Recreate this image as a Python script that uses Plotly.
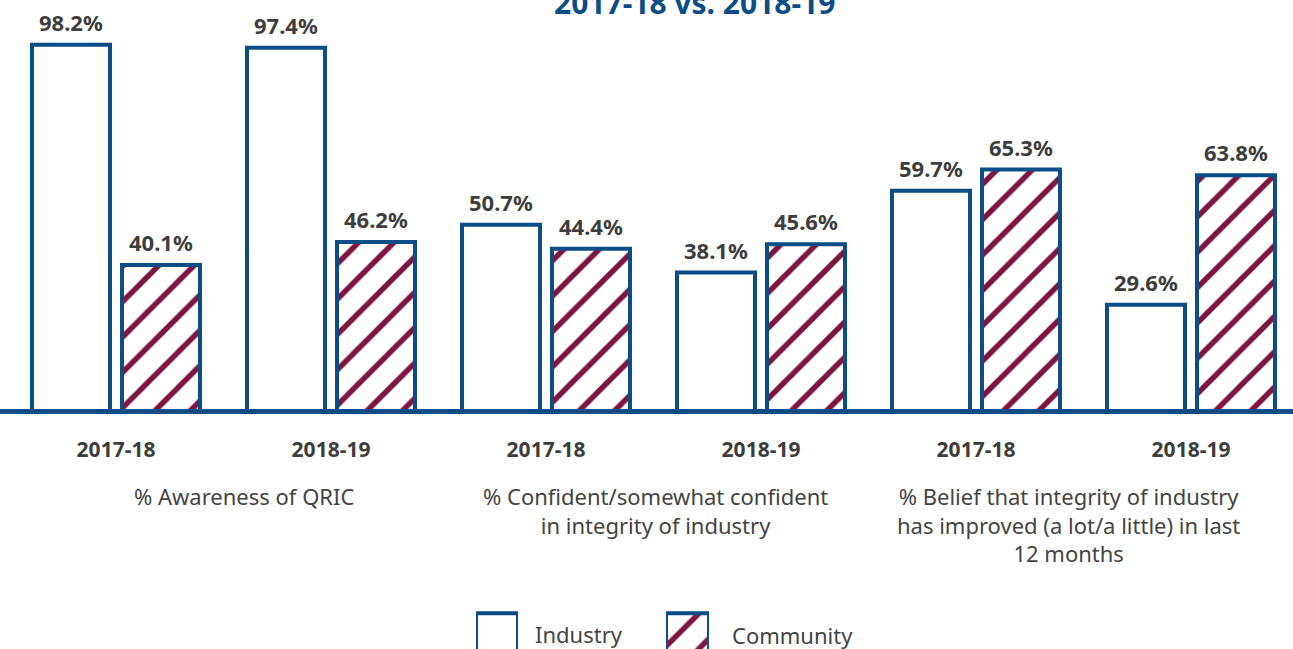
import plotly.graph_objects as go

# ---- data ----
periods = ["2017-18", "2018-19", "2017-18", "2018-19", "2017-18", "2018-19"]
industry = [98.2, 97.4, 50.7, 38.1, 59.7, 29.6]
community = [40.1, 46.2, 44.4, 45.6, 65.3, 63.8]
measures = ["% Awareness of QRIC",
            "% Confident/somewhat confident<br>in integrity of industry",
            "% Belief that integrity of industry<br>has improved (a lot/a little) in last<br>12 months"]
title_text = "2017-18 vs. 2018-19"
series_names = ["Industry", "Community"]

BLUE = "#0d4d85"
MAROON = "#7c1541"
GREY = "#3d3d3d"
FONT = "Noto Sans"

xpos = list(range(len(periods)))
hatch = dict(shape="/", fgcolor=MAROON, fgopacity=1, bgcolor="white", size=25, solidity=0.22)

PX_PER_UNIT = 3.79
ZERO_PX = 417.0
BASE_PX = 411.5

fig = go.Figure()
fig.add_trace(go.Bar(
    x=xpos, y=industry, name=series_names[0],
    marker=dict(color="white", line=dict(color=BLUE, width=4)),
    offsetgroup="a", showlegend=False, cliponaxis=True))
fig.add_trace(go.Bar(
    x=xpos, y=community, name=series_names[1],
    marker=dict(color="white", line=dict(color=BLUE, width=4), pattern=hatch),
    offsetgroup="b", showlegend=False, cliponaxis=True))

# value labels
for i in xpos:
    for vals, off in ((industry, -0.209), (community, 0.209)):
        fig.add_annotation(x=i + off, y=vals[i], text=f"<b>{vals[i]:.1f}%</b>",
                           showarrow=False, yanchor="bottom", yshift=6,
                           font=dict(size=22, color=GREY, family=FONT))

# group labels
nudges = [20, 2, -15]
for g, m in enumerate(measures):
    fig.add_annotation(x=2 * g + 0.5, y=0, xref="x", yref="y domain", text=m,
                       showarrow=False, yanchor="top", yshift=-67, xshift=nudges[g],
                       font=dict(size=22, color="#444444", family=FONT))

# baseline
fig.add_shape(type="line", xref="paper", yref="y domain", x0=0, x1=1, y0=0, y1=0,
              line=dict(color=BLUE, width=5))

# title (partly off the top of the page)
fig.add_annotation(x=0.5375, y=1, xref="paper", yref="paper", text=f"<b>{title_text}</b>",
                   showarrow=False, yanchor="bottom", yshift=-25,
                   font=dict(size=30, color=BLUE, family=FONT))

# legend boxes on their own small axes
fig.add_trace(go.Bar(x=[0], y=[1.6], base=-1, xaxis="x2", yaxis="y2", width=1,
                     marker=dict(color="white", line=dict(color=BLUE, width=4)),
                     showlegend=False, hoverinfo="skip"))
fig.add_trace(go.Bar(x=[0], y=[1.6], base=-1, xaxis="x3", yaxis="y3", width=1,
                     marker=dict(color="white", line=dict(color=BLUE, width=4), pattern=hatch),
                     showlegend=False, hoverinfo="skip"))
fig.add_annotation(x=533 / 1293, y=1 - 634 / 649, xref="paper", yref="paper",
                   text=series_names[0], showarrow=False, xanchor="left", yanchor="middle",
                   font=dict(size=22, color="#444444", family=FONT))
fig.add_annotation(x=730 / 1293, y=1 - 635 / 649, xref="paper", yref="paper",
                   text=series_names[1], showarrow=False, xanchor="left", yanchor="middle",
                   font=dict(size=22, color="#444444", family=FONT))

fig.update_layout(
    width=1293, height=649,
    margin=dict(l=0, r=0, t=0, b=0),
    paper_bgcolor="white", plot_bgcolor="white",
    barmode="group", bargap=0.163, bargroupgap=0.133,
    xaxis=dict(domain=[0, 1], range=[-116 / 215, (1293 - 116) / 215],
               tickvals=xpos, ticktext=[f"<b>{p}</b>" for p in periods],
               tickfont=dict(size=21, color=GREY, family=FONT),
               ticks="", ticklabelstandoff=23, showgrid=False, zeroline=False,
               showline=False, anchor="y"),
    yaxis=dict(domain=[1 - BASE_PX / 649, 1],
               range=[(ZERO_PX - BASE_PX) / PX_PER_UNIT, ZERO_PX / PX_PER_UNIT],
               visible=False),
    xaxis2=dict(domain=[476 / 1293, 518 / 1293], range=[-0.5, 0.5], visible=False, anchor="y2"),
    yaxis2=dict(domain=[0, 38 / 649], range=[0, 0.64], visible=False, anchor="x2"),
    xaxis3=dict(domain=[666 / 1293, 709 / 1293], range=[-0.5, 0.5], visible=False, anchor="y3"),
    yaxis3=dict(domain=[0, 38 / 649], range=[0, 0.64], visible=False, anchor="x3"),
)

fig.write_html("out.html")
